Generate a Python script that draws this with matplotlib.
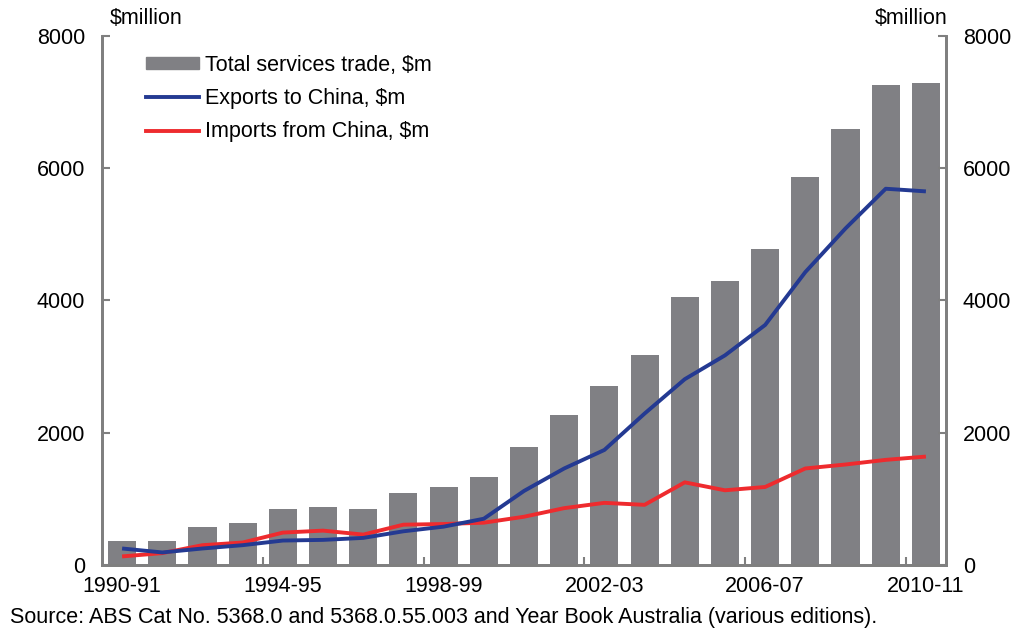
import numpy as np
import matplotlib.pyplot as plt
from matplotlib.lines import Line2D
from matplotlib.patches import Patch

plt.rcParams['font.family'] = ['Liberation Sans', 'DejaVu Sans']

# Financial years and values in $ million
years = ['1990-91', '1991-92', '1992-93', '1993-94', '1994-95', '1995-96', '1996-97',
         '1997-98', '1998-99', '1999-00', '2000-01', '2001-02', '2002-03', '2003-04',
         '2004-05', '2005-06', '2006-07', '2007-08', '2008-09', '2009-10', '2010-11']
total_trade = [370, 370, 580, 640, 850, 880, 850, 1090, 1180, 1330, 1790, 2270, 2700,
               3180, 4050, 4290, 4780, 5860, 6590, 7260, 7290]
exports = [250, 190, 250, 300, 370, 380, 410, 510, 580, 700, 1120, 1460, 1740, 2290,
           2810, 3170, 3630, 4430, 5090, 5690, 5650]
imports = [130, 180, 300, 340, 490, 520, 460, 610, 620, 640, 730, 860, 940, 910, 1250,
           1130, 1180, 1460, 1520, 1590, 1640]
y_ticks = [0, 2000, 4000, 6000, 8000]

bar_col = '#808084'
exp_col = '#243a92'
imp_col = '#ee2b2e'
axis_col = '#7f7f7f'
fs = 15.5

fig = plt.figure(figsize=(10.16, 6.28), dpi=100)
ax = fig.add_axes([0.1004, 0.1003, 0.8307, 0.8424])
x = np.arange(len(years))

ax.bar(x, total_trade, width=0.7, color=bar_col, zorder=1)
ax.plot(x, exports, color=exp_col, lw=2.8, zorder=3, solid_capstyle='butt')
ax.plot(x, imports, color=imp_col, lw=2.8, zorder=2, solid_capstyle='butt')

ax.set_xlim(-0.5, len(years) - 0.5)
ax.set_ylim(0, 8000)

# twin axis on the right with the same scale
ax2 = ax.twinx()
ax2.set_ylim(0, 8000)

for a in (ax, ax2):
    a.set_yticks(y_ticks)
    a.tick_params(axis='y', direction='in', length=6, width=1.5, color=axis_col,
                  labelsize=fs, pad=12)
    for s in a.spines.values():
        s.set_color(axis_col)
        s.set_linewidth(2)
    a.spines['top'].set_visible(False)

ax.set_xticks(x[::4])
ax.set_xticklabels(years[::4])
ax.set_xticks(np.arange(3.5, len(years), 4), minor=True)
ax.tick_params(axis='x', which='major', length=0, labelsize=fs, pad=8)
ax.tick_params(axis='x', which='minor', direction='in', length=6, width=1.5, color=axis_col)

fig.text(0.108, 0.971, r'\$million', fontsize=fs, ha='left', va='center')
fig.text(0.933, 0.971, r'\$million', fontsize=fs, ha='right', va='center')
fig.text(0.01, 0.017, 'Source: ABS Cat No. 5368.0 and 5368.0.55.003 and Year Book Australia (various editions).',
         fontsize=15.5, ha='left', va='center')

handles = [Patch(color=bar_col),
           Line2D([], [], color=exp_col, lw=2.8),
           Line2D([], [], color=imp_col, lw=2.8)]
labels = [r'Total services trade, \$m', r'Exports to China, \$m', r'Imports from China, \$m']
ax.legend(handles, labels, loc='upper left', bbox_to_anchor=(0.052, 0.965), frameon=False,
          fontsize=fs, handlelength=2.45, handleheight=0.5, handletextpad=0.3,
          labelspacing=0.58, borderaxespad=0, borderpad=0)

fig.savefig('out.png', dpi=100)
